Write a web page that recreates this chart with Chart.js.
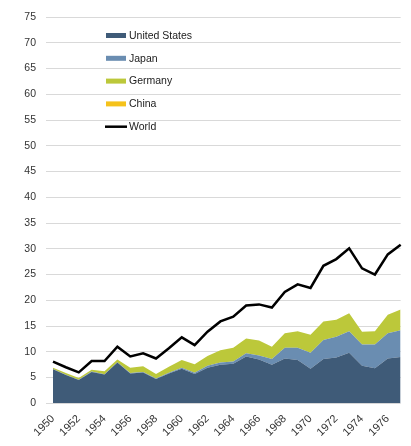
<!DOCTYPE html>
<html>
<head>
<meta charset="utf-8">
<script src="https://cdn.jsdelivr.net/npm/chart.js@4/dist/chart.umd.min.js"></script>
<style>
html,body{margin:0;padding:0;overflow:hidden;background:#fff;width:411px;height:446px;}
#wrap{position:absolute;left:0;top:0;width:419px;height:446px;}
</style>
</head>
<body>
<div id="wrap"><canvas id="c" width="419" height="446"></canvas></div>
<script>
const years = [1950,1951,1952,1953,1954,1955,1956,1957,1958,1959,1960,1961,1962,1963,1964,1965,1966,1967,1968,1969,1970,1971,1972,1973,1974,1975,1976,1977];
const tickLabels = [1950,1952,1954,1956,1958,1960,1962,1964,1966,1968,1970,1972,1974,1976];
const yTicks = [0,5,10,15,20,25,30,35,40,45,50,55,60,65,70,75];
const unitedStates = [6.6,5.5,4.5,6.1,5.6,7.9,5.8,6.0,4.7,5.8,6.7,5.7,6.9,7.5,7.7,9.1,8.5,7.5,8.7,8.4,6.7,8.6,8.9,9.8,7.3,6.8,8.7,9.0];
const japan = [0.05,0.05,0.05,0.05,0.05,0.05,0.1,0.1,0.1,0.15,0.2,0.25,0.4,0.4,0.4,0.6,0.8,1.1,2.1,2.4,3.1,3.7,4.0,4.2,4.1,4.6,4.9,5.2];
const germany = [0.25,0.35,0.35,0.35,0.55,0.55,1.0,1.1,0.9,1.15,1.5,1.65,1.9,2.4,2.7,2.9,2.9,2.4,2.8,3.2,3.5,3.6,3.3,3.5,2.5,2.6,3.6,4.0];
const china = [0,0,0,0,0,0,0,0,0,0,0,0,0,0,0,0,0,0,0,0,0,0,0,0,0,0,0,0];
const world = [8.1,7.0,6.0,8.2,8.2,11.0,9.1,9.7,8.7,10.7,12.8,11.3,13.9,15.9,16.8,19.0,19.2,18.6,21.6,23.1,22.4,26.7,28.0,30.1,26.2,25.0,28.9,30.8];

const FONT = "'Liberation Sans', Arial, sans-serif";

function area(label, data, color, fill) {
  return {label, data, backgroundColor: color, borderColor: 'rgba(0,0,0,0)', borderWidth: 0,
    fill, pointRadius: 0, tension: 0, stack: 'countries', order: 1, legendType: 'box'};
}

const legendPlugin = {
  id: 'customLegend',
  afterDraw(chart) {
    const ctx = chart.ctx;
    ctx.save();
    ctx.font = "10.5px " + FONT;
    ctx.textBaseline = 'middle';
    ctx.textAlign = 'left';
    chart.data.datasets.forEach((ds, i) => {
      const y = 35.5 + i * 22.8;
      if (ds.legendType === 'line') {
        ctx.strokeStyle = ds.borderColor;
        ctx.lineWidth = 2.5;
        ctx.beginPath();
        ctx.moveTo(105, y);
        ctx.lineTo(127, y);
        ctx.stroke();
      } else {
        ctx.fillStyle = ds.backgroundColor;
        ctx.fillRect(106, y - 2.5, 20, 5);
      }
      ctx.fillStyle = '#1a1a1a';
      ctx.fillText(ds.label, 129, y + 0.5);
    });
    ctx.restore();
  }
};

new Chart(document.getElementById('c'), {
  type: 'line',
  data: {
    labels: years,
    datasets: [
      area('United States', unitedStates, '#3f5b78', 'origin'),
      area('Japan', japan, '#6a8db1', '-1'),
      area('Germany', germany, '#bcc83a', '-1'),
      area('China', china, '#f5c21b', '-1'),
      {label: 'World', data: world, borderColor: '#000000', backgroundColor: '#000000', borderWidth: 2.5,
       fill: false, pointRadius: 0, tension: 0, stack: 'world', order: -1, legendType: 'line'}
    ]
  },
  options: {
    responsive: false,
    animation: false,
    layout: {padding: {top: 17, left: 0, right: 0, bottom: 0}},
    plugins: {legend: {display: false}, tooltip: {enabled: false}},
    scales: {
      x: {
        type: 'category',
        offset: false,
        grid: {display: false, drawTicks: false},
        border: {display: false},
        ticks: {
          autoSkip: false, maxRotation: 45, minRotation: 45, padding: 9,
          color: '#333333', font: {family: FONT, size: 11},
          callback: function(v, i) { return tickLabels.includes(years[i]) ? String(years[i]) : ''; }
        },
        afterFit(scale) { scale.height = 42.7; }
      },
      y: {
        stacked: true,
        min: 0, max: 75,
        grid: {color: '#d9d9d9', lineWidth: 1, tickLength: 7, drawTicks: true},
        border: {display: false},
        ticks: {stepSize: 5, padding: 10, color: '#333333', font: {family: FONT, size: 10.5},
          callback: function(v) { return yTicks.includes(v) ? String(v) : ''; }},
        afterFit(scale) { scale.width = 53; }
      }
    }
  },
  plugins: [legendPlugin]
});
</script>
</body>
</html>
